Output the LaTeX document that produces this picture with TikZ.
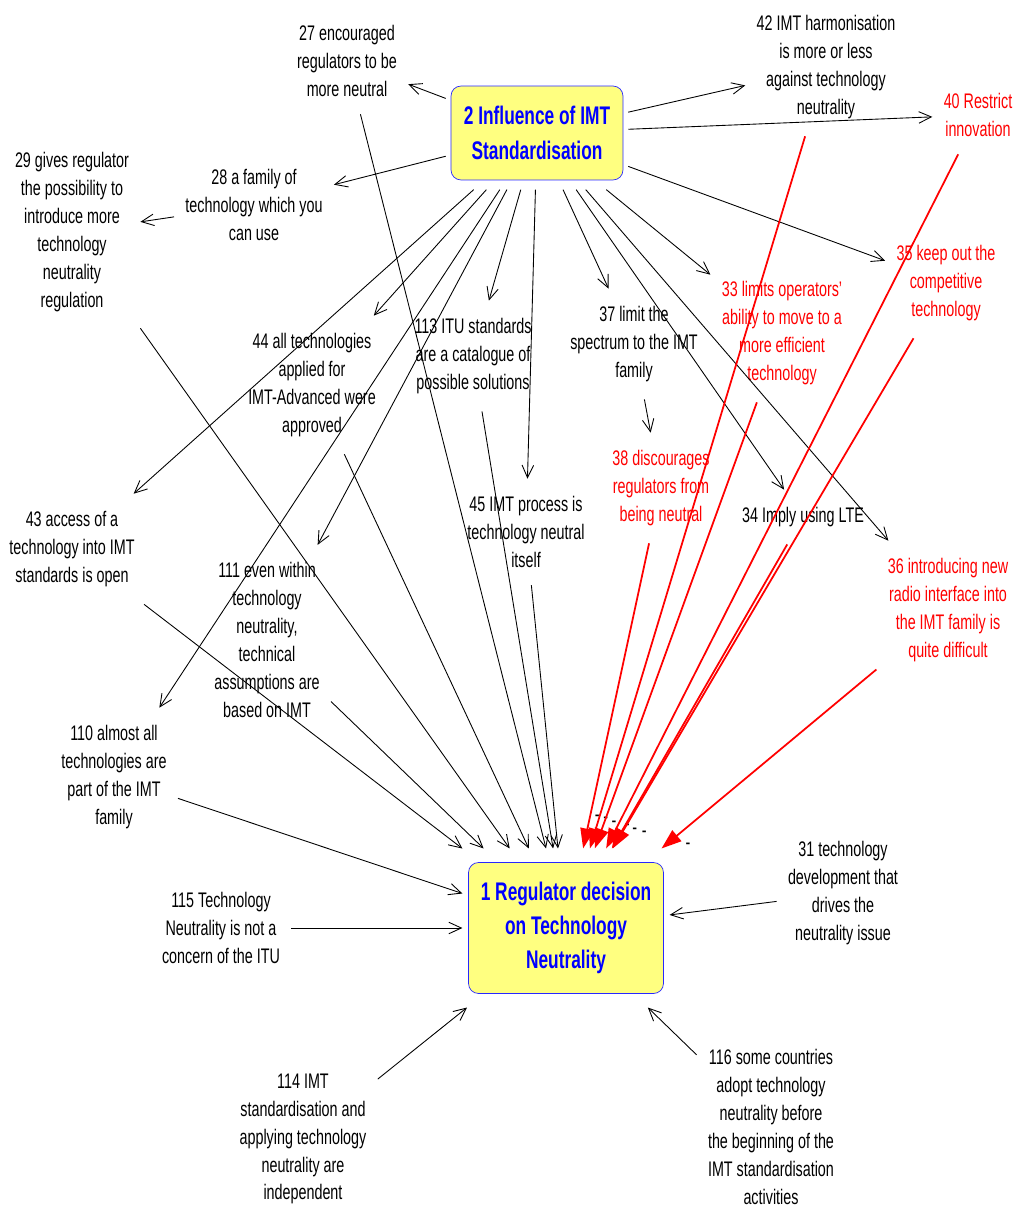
\documentclass[tikz,border=0pt]{standalone}
\usepackage{fontspec}
\setmainfont[FakeStretch=0.68]{Liberation Sans}
\usetikzlibrary{arrows.meta}

\definecolor{boxyellow}{RGB}{255,255,128}
\definecolor{boxblue}{RGB}{40,40,255}

\tikzset{
  var/.style={align=center, inner xsep=1pt, inner ysep=2pt,
    outer xsep=5.5pt, outer ysep=8pt, font=\fontsize{12}{15.9}\selectfont},
  redvar/.style={var, text=red},
  keyvar/.style={draw=boxblue, fill=boxyellow, rounded corners=0.2cm,
    text=blue, align=center, font=\bfseries\fontsize{14.5}{19.5}\selectfont},
  link/.style={line width=0.5pt, -{Straight Barb[length=2.5mm,width=2.3mm]}},
  neglink/.style={red, line width=1pt, -{Triangle[length=4mm,width=2.8mm]}},
  sign/.style={at end, anchor=center, inner sep=0pt,
    text=black, font=\fontsize{12}{12}\selectfont}
}

\begin{document}
\begin{tikzpicture}[x=0.02cm, y=-0.02cm]
\useasboundingbox (0,0) rectangle (1014,1209);
% key variables
\node[keyvar, minimum width=3.44cm, minimum height=1.88cm, outer xsep=3pt, outer ysep=5.5pt] (n2) at (537,133) {2 Influence of IMT\\Standardisation};
\node[keyvar, minimum width=3.9cm, minimum height=2.62cm, outer xsep=3.5pt, outer ysep=8pt] (n1) at (566,928) {1 Regulator decision\\on Technology\\Neutrality};
% other variables
\node[var] (n27) at (347,61) {27 encouraged\\regulators to be\\more neutral};
\node[var] (n28) at (254,205) {28 a family of\\technology which you\\can use};
\node[var] (n29) at (72,232) {29 gives regulator\\the possibility to\\introduce more\\technology\\neutrality\\regulation};
\node[var] (n42) at (826,67) {42 IMT harmonisation\\is more or less\\against technology\\neutrality};
\node[redvar] (n40) at (978,115) {40 Restrict\\innovation};
\node[redvar] (n35) at (946,283) {35 keep out the\\competitive\\technology};
\node[redvar] (n33) at (782,333) {33 limits operators'\\ability to move to a\\more efficient\\technology};
\node[var] (n37) at (634,344) {37 limit the\\spectrum to the IMT\\family};
\node[var] (n44) at (312,385) {44 all technologies\\applied for\\IMT-Advanced were\\approved};
\node[var] (n113) at (473,356) {113 ITU standards\\are a catalogue of\\possible solutions};
\node[redvar] (n38) at (661,488) {38 discourages\\regulators from\\being neutral};
\node[var] (n45) at (526,532) {45 IMT process is\\technology neutral\\itself};
\node[var] (n34) at (803,517) {34 Imply using LTE};
\node[redvar] (n36) at (948,610) {36 introducing new\\radio interface into\\the IMT family is\\quite difficult};
\node[var] (n43) at (72,549) {43 access of a\\technology into IMT\\standards is open};
\node[var] (n111) at (267,640) {111 even within\\technology\\neutrality,\\technical\\assumptions are\\based on IMT};
\node[var] (n110) at (114,777) {110 almost all\\technologies are\\part of the IMT\\family};
\node[var] (n115) at (221,928) {115 Technology\\Neutrality is not a\\concern of the ITU};
\node[var] (n31) at (843,893) {31 technology\\development that\\drives the\\neutrality issue};
\node[var] (n114) at (303,1139) {114 IMT\\standardisation and\\applying technology\\neutrality are\\independent};
\node[var] (n116) at (771,1127) {116 some countries\\adopt technology\\neutrality before\\the beginning of the\\IMT standardisation\\activities};
% links out of 2
\foreach \dst in {n27,n28,n42,n40,n35,n33,n37,n34,n36,n44,n113,n45,n43,n111,n110}
  \draw[link] (n2) -- (\dst);
\draw[link] (n28) -- (n29);
\draw[link] (n37) -- (n38);
% links into 1
\foreach \src in {n27,n29,n44,n113,n45,n43,n111,n110,n115,n31,n114,n116}
  \draw[link] (\src) -- (n1);
% negative links, sign shifted off the tip
\foreach \src/\dx/\dy in {n38/8/17, n42/9/16, n33/11/14, n40/12/12,
    n34/13/10, n35/18/8, n36/15/1}
  \draw[neglink] (\src) -- node[sign, xshift=\dx pt, yshift=\dy pt]{-} (n1);
\end{tikzpicture}
\end{document}
